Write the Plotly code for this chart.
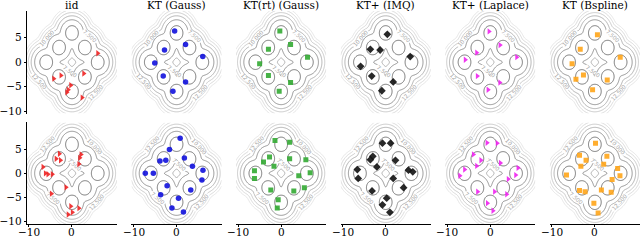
import numpy as np
import plotly.graph_objects as go

# ---- mixture of Gaussians behind every panel ----
mean_x = [-3, -3, 3, 3, 0, -6, 6, 0]
mean_y = [3, -3, 3, -3, 6, 0, 0, -6]
sigma2 = 1.0

titles = ["iid", "KT (Gauss)", "KT(rt) (Gauss)", "KT+ (IMQ)", "KT+ (Laplace)", "KT (Bspline)"]
x_ticks = [-10, 0]
x_tick_text = ["\u221210", "0"]
y_ticks = [5, 0, -5, -10]
y_tick_text = ["5", "0", "\u22125", "\u221210"]

# ---- points (top row: 8 points, bottom row: 16 points) ----
iid_top_x = [5.98, -2.57, -4.25, 2.73, -0.3, -0.9, -1.2, 2.34]
iid_top_y = [1.84, -2.7, -3.36, -2.3, -4.7, -5.64, -6.16, -7.24]
iid_bot_x = [-2.95, -3.7, -2.7, 2.1, 1.8, 1.6, -6.75, -6.2, -5.6, -4.6, -1.4, -4.8, -0.3, 1.6, 0.07, -0.9]
iid_bot_y = [4.04, 3.0, 2.7, 3.9, 3.2, 1.9, 1.3, 0.0, -0.2, -0.2, -2.9, -4.2, -6.8, -7.2, -8.06, -8.5]

ktg_top_x = [-0.45, -2.8, 2.1, -5.07, 6.1, -3.1, 2.1, -0.84]
ktg_top_y = [6.36, 2.5, 3.64, -0.16, 1.16, -2.84, -4.04, -5.96]
ktg_bot_x = [0.84, -1.66, -3.86, -2.5, 1.82, 3.7, -7.27, -5.4, 6.14, 5.9, -2.2, -3.7, 3.3, 0.45, -1.07, 1.6]
ktg_bot_y = [7.24, 4.94, 2.55, 2.69, 3.16, 1.47, 0.0, 0.0, 0.65, -1.4, -2.55, -4.45, -3.43, -5.14, -7.18, -8.0]

ktrt_top_x = [-0.3, 2.2, -2.95, 6.14, -5.0, -2.95, 2.2, -0.45]
ktrt_top_y = [6.36, 3.64, 2.64, 1.04, -0.3, -2.7, -4.16, -5.96]
ktrt_bot_x = [-1.43, 1.98, -2.7, -4.1, -1.66, 1.98, 5.75, -6.2, -6.2, 6.75, 4.1, 5.4, 2.95, -2.4, -0.68, -0.9]
ktrt_bot_y = [6.78, 6.43, 3.37, 2.35, 1.47, 3.02, 2.82, 0.51, -1.06, 0.1, -0.5, -2.96, -3.64, -3.43, -5.47, -7.18]

imq_top_x = [0.38, -1.3, -3.57, 5.7, -5.84, -3.25, 1.75, -0.9]
imq_top_y = [5.7, 2.5, 2.64, 1.16, -0.84, -2.84, -4.04, -5.84]
imq_bot_x = [-0.76, 1.14, -3.0, -3.57, -2.05, 2.27, 5.3, 6.3, -6.6, -6.4, 1.75, 4.16, -3.18, 0.23, -0.76, 0.98]
imq_bot_y = [6.22, 6.22, 3.5, 2.82, 1.33, 2.69, 0.65, 0.31, 0.78, -1.06, -1.06, -2.96, -3.64, -5.14, -6.5, -8.06]

lap_top_x = [-0.3, 2.27, -3.18, 6.14, -5.84, -3.03, 2.2, -0.53]
lap_top_y = [6.3, 3.5, 1.96, 1.04, 0.5, -2.84, -4.16, -5.64]
lap_bot_x = [-0.76, 1.59, -3.94, -2.2, -3.18, 2.34, 6.43, 5.9, -5.98, -7.1, 4.16, 0.98, 3.8, -2.95, -0.68, 0.6]
lap_bot_y = [6.29, 6.22, 3.9, 2.69, 1.53, 2.14, 1.12, -0.37, 0.78, -0.51, -1.19, -3.78, -4.33, -3.78, -6.16, -7.72]

bsp_top_x = [0.6, -3.4, 5.9, -5.3, -2.65, -4.4, 2.88, -0.53]
bsp_top_y = [5.64, 2.64, 1.04, -0.3, -2.64, -3.5, -3.64, -5.64]
bsp_bot_x = [0.15, -3.57, -2.05, -3.25, 2.8, 2.05, 5.3, 5.84, 4.02, -6.6, 1.52, 3.8, -3.57, -2.27, -0.23, 0.76]
bsp_bot_y = [6.22, 3.71, 2.69, 1.47, 3.5, 1.88, 0.98, -0.51, -1.26, -0.37, -3.43, -3.9, -3.57, -3.78, -6.16, -8.2]

top_sets = [(iid_top_x, iid_top_y), (ktg_top_x, ktg_top_y), (ktrt_top_x, ktrt_top_y),
            (imq_top_x, imq_top_y), (lap_top_x, lap_top_y), (bsp_top_x, bsp_top_y)]
bot_sets = [(iid_bot_x, iid_bot_y), (ktg_bot_x, ktg_bot_y), (ktrt_bot_x, ktrt_bot_y),
            (imq_bot_x, imq_bot_y), (lap_bot_x, lap_bot_y), (bsp_bot_x, bsp_bot_y)]
colors = ["#ee2222", "#1111dd", "#33aa33", "#111111", "#ee22ee", "#ffa51a"]
symbols = ["triangle-right", "circle", "square", "diamond", "triangle-right", "square"]
sizes = [5.5, 5.5, 5, 6, 5.5, 5]

# ---- density grid ----
g = np.linspace(-10.5, 10.5, 171)
GX, GY = np.meshgrid(g, g)
dens = np.zeros_like(GX)
for mx, my in zip(mean_x, mean_y):
    dens += np.exp(-((GX - mx) ** 2 + (GY - my) ** 2) / (2 * sigma2))
dens /= (len(mean_x) * 2 * np.pi * sigma2)
Z = -np.log(dens)

W, H = 640, 241
fig = go.Figure()

col_left = [22 + 105.4 * k for k in range(6)]
half_w = 91
rows = [(11, 115), (124, 227)]
FONT = "DejaVu Serif"

def xd(p):
    return min(max(p / W, 0), 1)

def yd(p):
    return 1 - p / H

for r in range(2):
    for c in range(6):
        idx = r * 6 + c + 1
        xa = "x" if idx == 1 else f"x{idx}"
        ya = "y" if idx == 1 else f"y{idx}"
        xl = "xaxis" if idx == 1 else f"xaxis{idx}"
        yl = "yaxis" if idx == 1 else f"yaxis{idx}"
        fig.add_trace(go.Contour(
            x=g, y=g, z=Z, xaxis=xa, yaxis=ya,
            contours=dict(start=5, end=17.5, size=2.5, coloring="lines",
                          showlabels=True,
                          labelfont=dict(size=5.5, color="#a4a4a4", family="DejaVu Sans"),
                          labelformat=".3f"),
            colorscale=[[0, "#555555"], [0.2, "#7a7a7a"], [0.4, "#a0a0a0"],
                        [0.6, "#bcbcbc"], [0.8, "#d0d0d0"], [1, "#e0e0e0"]],
            zmin=5, zmax=17.5, showscale=False, line=dict(width=0.8),
            hoverinfo="skip"))
        px, py = (top_sets if r == 0 else bot_sets)[c]
        fig.add_trace(go.Scatter(
            x=px, y=py, mode="markers", xaxis=xa, yaxis=ya,
            marker=dict(symbol=symbols[c], color=colors[c], size=sizes[c],
                        opacity=0.9, line=dict(width=0)),
            showlegend=False))
        x0 = col_left[c]
        fig.layout[xl] = dict(
            domain=[xd(x0), xd(x0 + half_w)], range=[-10.5, 10.5], anchor=ya,
            showgrid=False, zeroline=False,
            showline=(r == 1), linecolor="black", linewidth=1,
            tickvals=x_ticks if r == 1 else [], showticklabels=False,
            ticks="outside" if r == 1 else "", ticklen=2, tickcolor="black")
        fig.layout[yl] = dict(
            domain=[yd(rows[r][1]), yd(rows[r][0])], range=[-10.5, 10.5], anchor=xa,
            showgrid=False, zeroline=False,
            showline=(c == 0), linecolor="black", linewidth=1,
            tickvals=y_ticks if c == 0 else [],
            ticktext=y_tick_text if c == 0 else [],
            ticks="outside" if c == 0 else "", ticklen=2, tickcolor="black",
            tickfont=dict(family=FONT, size=10.5, color="black"))
        if r == 1:
            for tv, tt in zip(x_ticks, x_tick_text):
                fig.add_annotation(
                    text=tt, xref=xa, yref="paper", x=tv, y=yd(235),
                    xanchor="center", yanchor="middle", showarrow=False, borderpad=0,
                    font=dict(family=FONT, size=10.5, color="black"))

for c in range(6):
    fig.add_annotation(
        text=titles[c], xref="paper", yref="paper",
        x=xd(col_left[c] + half_w / 2), y=yd(5.5), xanchor="center", yanchor="middle",
        showarrow=False, borderpad=0,
        font=dict(family=FONT, size=10.5, color="black"))

fig.update_layout(width=W, height=H, margin=dict(l=0, r=0, t=0, b=0),
                  paper_bgcolor="white", plot_bgcolor="white", showlegend=False)
fig.write_html("out.html", config={"displayModeBar": False},
               post_script="document.body.style.margin='0';document.body.style.overflow='hidden';")
